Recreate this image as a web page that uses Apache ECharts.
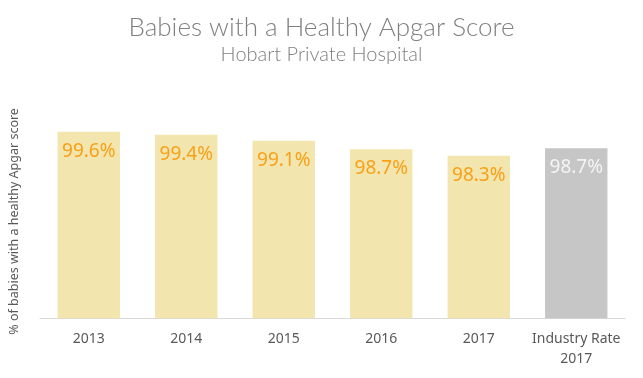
<!DOCTYPE html>
<html>
<head>
<meta charset="utf-8">
<script src="https://cdn.jsdelivr.net/npm/echarts@6/dist/echarts.min.js"></script>
<style>
  html, body { margin: 0; padding: 0; background: #fff; }
  #chart { width: 643px; height: 378px; }
</style>
</head>
<body>
<div id="chart"></div>
<script>
// categories along the x axis
var categories = ['2013', '2014', '2015', '2016', '2017', 'Industry Rate\n2017'];
// % of babies with a healthy Apgar score
var rates = [99.61, 99.44, 99.12, 98.66, 98.31, 98.72];
var industryIndex = 5;

var chart = echarts.init(document.getElementById('chart'));

var barData = rates.map(function (v, i) {
  var isIndustry = i === industryIndex;
  return {
    value: v,
    itemStyle: { color: isIndustry ? '#c6c6c6' : '#f2e6ae' },
    label: { color: isIndustry ? '#f4f4f4' : '#f7a11a' }
  };
});

var option = {
  animation: false,
  backgroundColor: '#fff',
  title: [
    {
      text: 'Babies with a Healthy Apgar Score',
      left: 'center',
      top: 10,
      textStyle: { fontFamily: 'Lato', fontWeight: 300, fontSize: 26, color: '#808080' }
    },
    {
      text: 'Hobart Private Hospital',
      left: 'center',
      top: 40,
      textStyle: { fontFamily: 'Lato', fontWeight: 300, fontSize: 20, color: '#808080' }
    }
  ],
  grid: { left: 35, right: 18, top: 124.5, bottom: 59.7 },
  xAxis: {
    type: 'category',
    data: categories,
    axisLine: { lineStyle: { color: '#d9d9d9', width: 1 } },
    axisTick: { show: false },
    axisLabel: {
      color: '#595959',
      fontFamily: 'Noto Sans',
      fontSize: 14,
      lineHeight: 20,
      margin: 11,
      interval: 0
    }
  },
  yAxis: {
    type: 'value',
    min: 89.5,
    max: 100,
    axisLine: { show: false },
    axisTick: { show: false },
    axisLabel: { show: false },
    splitLine: { show: false },
    name: '% of babies with a healthy Apgar score',
    nameLocation: 'middle',
    nameGap: 19,
    nameTextStyle: { color: '#595959', fontFamily: 'Noto Sans', fontSize: 12.5 }
  },
  series: [{
    type: 'bar',
    data: barData,
    barCategoryGap: '36%',
    label: {
      show: true,
      position: 'insideTop',
      distance: 10,
      fontFamily: 'Noto Sans',
      fontSize: 19,
      formatter: function (p) { return p.value.toFixed(1) + '%'; }
    }
  }]
};

chart.setOption(option);
</script>
</body>
</html>
